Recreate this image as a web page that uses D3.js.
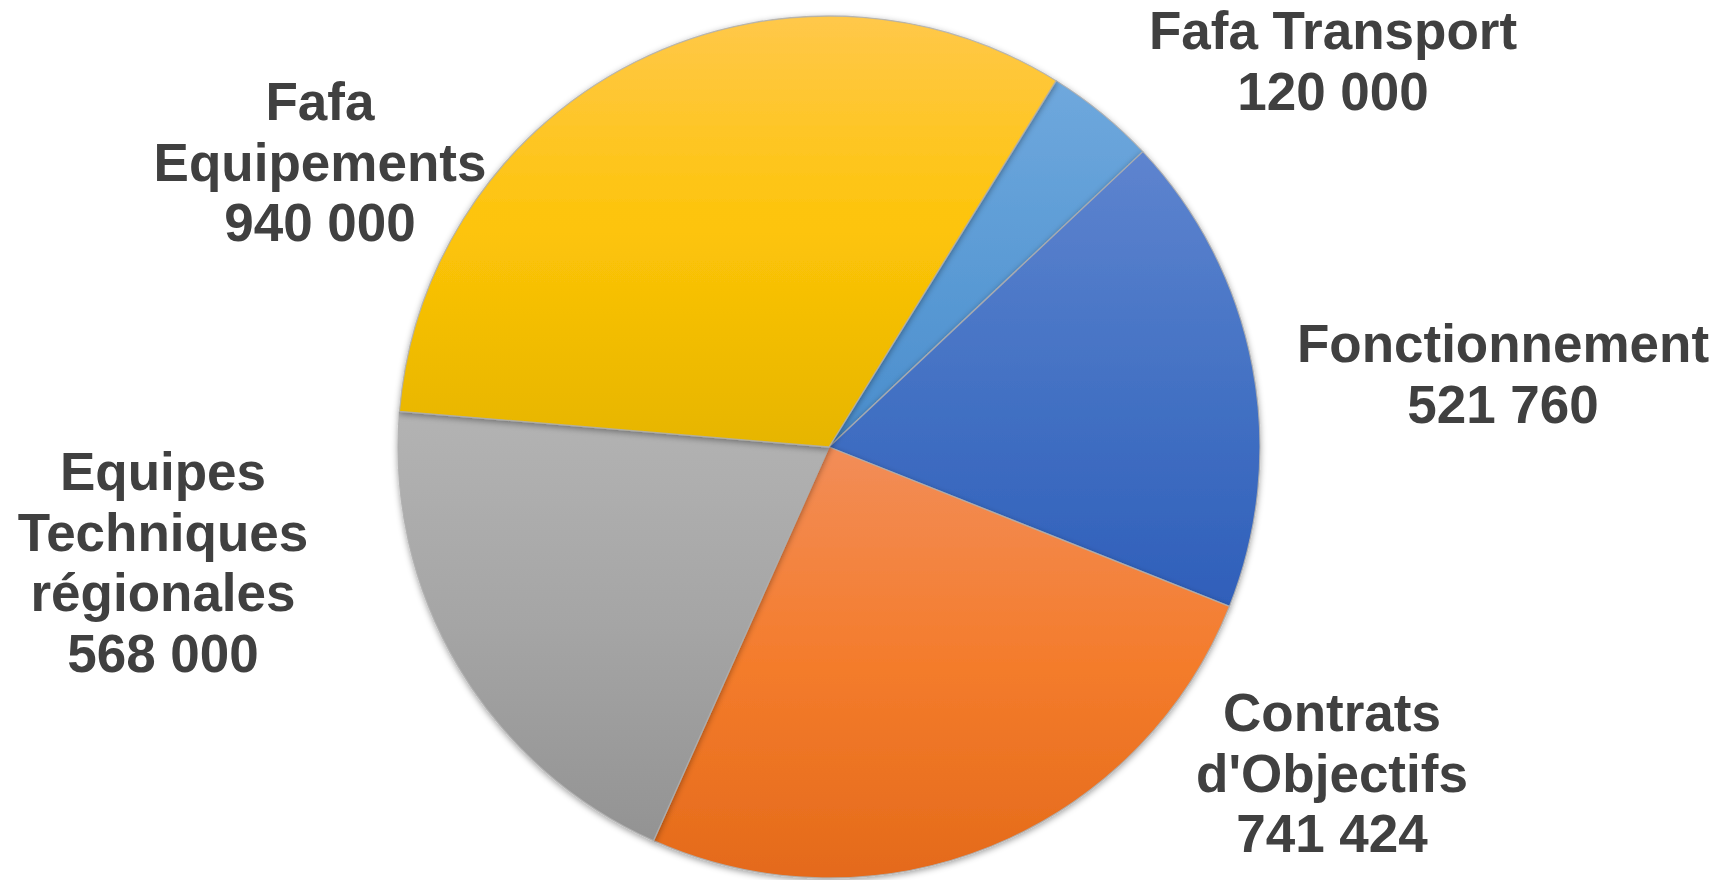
<!DOCTYPE html>
<html>
<head>
<meta charset="utf-8">
<script src="https://cdn.jsdelivr.net/npm/d3@7"></script>
<style>
  html, body { margin: 0; padding: 0; background: #ffffff; }
  svg { display: block; }
</style>
</head>
<body>
<svg id="chart" width="1721" height="880"></svg>
<script>
// ---- Data ----
const categories = ["Fafa Transport", "Fonctionnement", "Contrats d'Objectifs", "Equipes Techniques régionales", "Fafa Equipements"];
const values = [120000, 521760, 741424, 568000, 940000];
// label line breaks (text only)
const labelLines = [["Fafa Transport"], ["Fonctionnement"], ["Contrats", "d'Objectifs"], ["Equipes", "Techniques", "régionales"], ["Fafa", "Equipements"]];

// ---- Styles / layout ----
const colors = [
  ["#6fa8dd", "#5b9bd5", "#4a8dcc"],
  ["#5e84cf", "#4472c4", "#2f5fba"],
  ["#f28d58", "#f47c2c", "#e46a1a"],
  ["#b3b3b3", "#a5a5a5", "#939393"],
  ["#ffc84a", "#fdc408", "#e6b500"]
];
const labelPos = [
  [1333, 49], [1503, 362], [1332, 731], [163, 490], [320, 120]
]; // label block centre x, first baseline y
const cx = 829, cy = 447, radius = 431;
const startDeg = 31.8;
const fontSize = 53, lineH = 60.6;

const svg = d3.select("#chart");
const defs = svg.append("defs");

const shadow = defs.append("filter").attr("id", "shadow")
  .attr("x", "-10%").attr("y", "-10%").attr("width", "120%").attr("height", "120%");
shadow.append("feDropShadow").attr("dx", 0).attr("dy", 2).attr("stdDeviation", 3)
  .attr("flood-color", "#000").attr("flood-opacity", 0.38);

colors.forEach((c, i) => {
  const g = defs.append("linearGradient").attr("id", "grad" + i)
    .attr("x1", 0).attr("y1", 0).attr("x2", 0).attr("y2", 1);
  g.append("stop").attr("offset", "0%").attr("stop-color", c[0]);
  g.append("stop").attr("offset", "50%").attr("stop-color", c[1]);
  g.append("stop").attr("offset", "100%").attr("stop-color", c[2]);
});

const data = categories.map((c, i) => ({ name: c, value: values[i], idx: i }));

const start = startDeg * Math.PI / 180;
const pie = d3.pie().sort(null).value(d => d.value)
  .startAngle(start).endAngle(start + 2 * Math.PI);
const arc = d3.arc().innerRadius(0).outerRadius(radius);

const g = svg.append("g").attr("transform", `translate(${cx},${cy})`);
g.selectAll("path.slice")
  .data(pie(data))
  .join("path")
  .attr("class", "slice")
  .attr("d", arc)
  .attr("fill", d => `url(#grad${d.data.idx})`)
  .attr("stroke", "rgba(175,175,175,0.85)")
  .attr("stroke-width", 1.3)
  .attr("stroke-linejoin", "round")
  .attr("filter", "url(#shadow)");

const fmt = d3.formatLocale({ decimal: ",", thousands: " ", grouping: [3], currency: ["", " €"] }).format(",d");

const labels = svg.append("g")
  .attr("font-family", "'Liberation Sans', Arial, Helvetica, sans-serif")
  .attr("font-weight", "bold")
  .attr("font-size", fontSize)
  .attr("fill", "#404040")
  .attr("text-anchor", "middle");

data.forEach((d, i) => {
  const lines = labelLines[i].concat([fmt(d.value)]);
  const t = labels.append("text")
    .attr("x", labelPos[i][0]).attr("y", labelPos[i][1]);
  lines.forEach((ln, j) => {
    t.append("tspan").attr("x", labelPos[i][0]).attr("y", labelPos[i][1] + j * lineH).text(ln);
  });
});
</script>
</body>
</html>
